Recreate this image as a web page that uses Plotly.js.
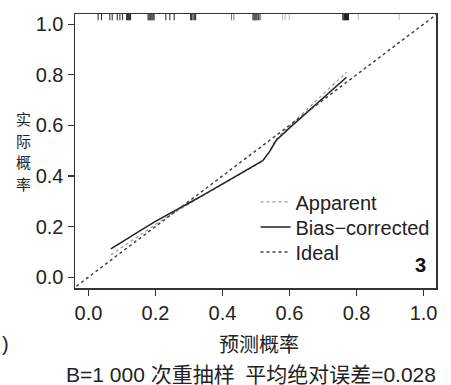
<!DOCTYPE html>
<html>
<head>
<meta charset="utf-8">
<script src="https://cdn.plot.ly/plotly-3.0.1.min.js"></script>
<style>html,body{margin:0;padding:0;background:#fff;}#chart{width:451px;height:385px;}</style>
</head>
<body>
<div id="chart"></div>
<script>
// Calibration curves
const predX = [0.067,0.10,0.15,0.20,0.25,0.30,0.35,0.40,0.45,0.50,0.52,0.54,0.56,0.60,0.65,0.70,0.77];
const biasY = [0.112,0.14,0.18,0.22,0.258,0.293,0.33,0.368,0.405,0.443,0.46,0.495,0.54,0.59,0.648,0.705,0.79];
const apparentY = [0.088,0.118,0.163,0.208,0.25,0.29,0.328,0.366,0.403,0.44,0.458,0.497,0.545,0.598,0.66,0.72,0.81];
const idealX = [-0.05, 1.05];
const idealY = [-0.05, 1.05];
// Rug of predicted probabilities
const rugDark = [0.029,0.039,0.064,0.071,0.086,0.094,0.102,0.114,0.117,0.120,0.123,0.126,0.178,0.181,0.184,0.187,0.190,0.193,0.196,0.231,0.243,0.256,0.305,0.308,0.312,0.316,0.320,0.491,0.494,0.497,0.500,0.503,0.507,0.512,0.759,0.762,0.764,0.767,0.770,0.773,0.776];
const rugMid = [0.427,0.434];
const rugLight = [0.579,0.587,0.599,0.805,0.927];
const xTicks = [0.0,0.2,0.4,0.6,0.8,1.0];
const yTicks = [0.0,0.2,0.4,0.6,0.8,1.0];
const tickText = ['0.0','0.2','0.4','0.6','0.8','1.0'];
const yTitleChars = ['实','际','概','率'];

const RUG_Y = 1.04;
function rug(xs, color){
  return {x: xs, y: xs.map(()=>RUG_Y), mode:'markers', type:'scatter', showlegend:false, hoverinfo:'skip',
    marker:{symbol:'line-ns', size:9, line:{color:color, width:1}}};
}

const font = 'Liberation Sans, Arial, Noto Sans CJK SC, sans-serif';
const cjk = 'Noto Sans CJK SC, Liberation Sans, sans-serif';

const data = [
  {x: predX, y: apparentY, name:'Apparent', legend:'legend', mode:'lines', type:'scatter', line:{color:'#999', width:1.2, dash:'dot'}},
  {x: predX, y: biasY, name:'Bias\u2212corrected', legend:'legend2', mode:'lines', type:'scatter', line:{color:'#222', width:1.5}},
  {x: idealX, y: idealY, name:'Ideal', legend:'legend3', mode:'lines', type:'scatter', line:{color:'#444', width:1.5, dash:'3px,3px'}},
  rug(rugDark,'#222'), rug(rugMid,'#777'), rug(rugLight,'#bbb')
];

const legStyle = (y) => ({x:0.5, y:y, xanchor:'left', yanchor:'middle', bgcolor:'rgba(0,0,0,0)',
  font:{size:20, family:font, color:'#222'}, itemwidth:30, tracegroupgap:0});

const annotations = [
  {xref:'paper', yref:'paper', x:0.51, y:-0.204, xanchor:'center', yanchor:'middle', showarrow:false,
    text:'预测概率', font:{size:20, family:cjk, color:'#222'}},
  {xref:'paper', yref:'paper', x:1.0055, y:-0.314, xanchor:'right', yanchor:'middle', showarrow:false,
    text:'B=1 000 次重抽样\u2002平均绝对误差=0.028',
    font:{size:21, family:font, color:'#222'}},
  {xref:'paper', yref:'paper', x:0.978, y:0.084, xanchor:'right', yanchor:'middle', showarrow:false,
    text:'<b>3</b>', font:{size:20, family:font, color:'#111'}},
  {xref:'paper', yref:'paper', x:-0.2078, y:-0.204, xanchor:'left', yanchor:'middle', showarrow:false,
    text:')', font:{size:20, family:font, color:'#222'}}
];
const yTitleYs = [0.6204, 0.5401, 0.4599, 0.3796];
yTitleChars.forEach((c,i)=>annotations.push({xref:'paper', yref:'paper', x:-0.144, y:yTitleYs[i], xanchor:'center', yanchor:'middle',
  showarrow:false, borderpad:0, text:c, font:{size:15, family:cjk, color:'#222'}}));

const layout = {
  width:451, height:385,
  margin:{l:75, r:15, t:14, b:97},
  paper_bgcolor:'#fff', plot_bgcolor:'#fff',
  font:{family:font, color:'#222', size:20},
  xaxis:{range:[-0.04,1.037], tickvals:xTicks, ticktext:tickText, ticks:'outside', ticklen:6, tickwidth:1.2, tickcolor:'#333',
    showgrid:false, zeroline:false, showline:true, mirror:true, linecolor:'#333', linewidth:1.5, tickfont:{size:20, family:font}},
  yaxis:{range:[-0.043,1.04], tickvals:yTicks, ticktext:tickText, ticks:'outside', ticklen:6, tickwidth:1.2, tickcolor:'#333',
    showgrid:false, zeroline:false, showline:true, mirror:true, linecolor:'#333', linewidth:1.5, tickfont:{size:20, family:font}},
  showlegend:true,
  legend:legStyle(0.314),
  legend2:legStyle(0.2226),
  legend3:legStyle(0.131),
  annotations:annotations
};

Plotly.newPlot('chart', data, layout, {displayModeBar:false, staticPlot:true});
</script>
</body>
</html>
